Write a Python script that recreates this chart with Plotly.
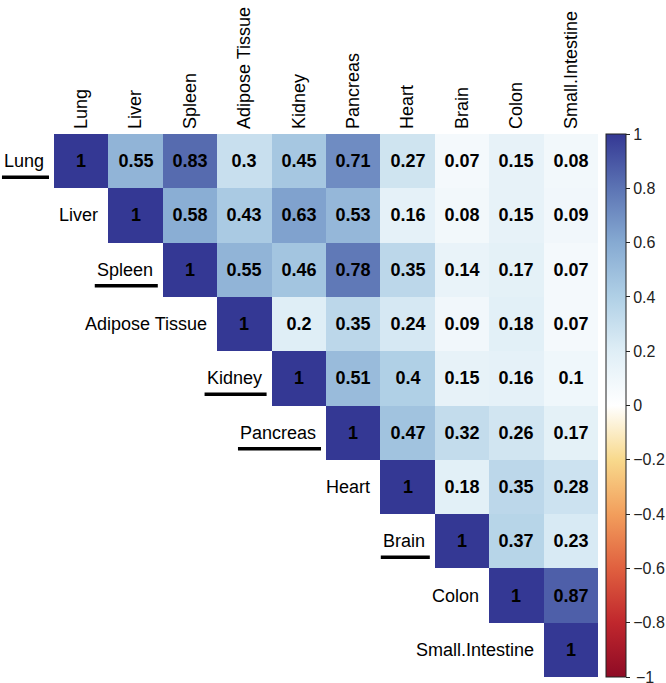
import numpy as np
import plotly.graph_objects as go

# Tissues (row/column order of the correlation matrix)
tissues = ["Lung", "Liver", "Spleen", "Adipose Tissue", "Kidney", "Pancreas",
           "Heart", "Brain", "Colon", "Small.Intestine"]

# Upper triangle of the correlation matrix, one list per row (starting at the diagonal)
lung = [1, 0.55, 0.83, 0.3, 0.45, 0.71, 0.27, 0.07, 0.15, 0.08]
liver = [1, 0.58, 0.43, 0.63, 0.53, 0.16, 0.08, 0.15, 0.09]
spleen = [1, 0.55, 0.46, 0.78, 0.35, 0.14, 0.17, 0.07]
adipose = [1, 0.2, 0.35, 0.24, 0.09, 0.18, 0.07]
kidney = [1, 0.51, 0.4, 0.15, 0.16, 0.1]
pancreas = [1, 0.47, 0.32, 0.26, 0.17]
heart = [1, 0.18, 0.35, 0.28]
brain = [1, 0.37, 0.23]
colon = [1, 0.87]
small_intestine = [1]

upper_rows = [lung, liver, spleen, adipose, kidney, pancreas, heart, brain,
              colon, small_intestine]

# labels that are underlined in the figure
underlined = ["Lung", "Spleen", "Kidney", "Pancreas", "Brain"]

n = len(tissues)
z = np.full((n, n), np.nan)
text = [["" for _ in range(n)] for _ in range(n)]
for i, row in enumerate(upper_rows):
    for k, v in enumerate(row):
        z[i, i + k] = v
        text[i][i + k] = f"{v:g}"

colorscale = [
    [0.0, "#8e0b25"], [0.1, "#c0272d"], [0.2, "#e0603f"], [0.3, "#f29e5c"],
    [0.4, "#f8d98c"], [0.5, "#ffffff"], [0.6, "#dfeef6"], [0.7, "#b0d0e6"],
    [0.8, "#86aad2"], [0.9, "#5c74b4"], [1.0, "#343894"],
]

FONT = "Liberation Sans, Arial, Helvetica, sans-serif"
FS = 18

fig = go.Figure(go.Heatmap(
    z=z, x=list(range(n)), y=list(range(n)),
    text=text, texttemplate="%{text}",
    textfont=dict(family=FONT, size=FS, color="black", weight="bold"),
    colorscale=colorscale, zmin=-1, zmax=1, hoverongaps=False,
    colorbar=dict(
        thickness=20, len=1.0, lenmode="fraction", y=1, yanchor="top", ypad=0,
        x=1.0147, xanchor="left", xpad=0,
        outlinewidth=1, outlinecolor="#222",
        tick0=-1, dtick=0.2, ticks="outside", ticklen=4, tickcolor="#222",
        tickfont=dict(family=FONT, size=16, color="#222"),
    ),
))

# bottom colorbar label gets dropped by plotly (it runs off the page), add it back
fig.add_annotation(x=1.066, y=0, xref="paper", yref="paper", text="\u22121",
                   showarrow=False, xanchor="left", yanchor="middle",
                   font=dict(family=FONT, size=16, color="#222"))

# Arial advance widths (em) for estimating label widths for underlines
W = {"L": .556, "u": .556, "n": .556, "g": .556, "S": .667, "p": .556, "l": .222,
     "e": .556, "K": .667, "i": .222, "d": .556, "y": .5, "P": .667, "a": .556,
     "c": .5, "r": .333, "s": .5, "B": .667}

for i, name in enumerate(tissues):
    fig.add_annotation(x=i - 0.5, y=i, text=name, showarrow=False, xanchor="right",
                       xshift=-8, font=dict(family=FONT, size=FS, color="black"))
    if name in underlined:
        w = sum(W.get(c, .556) for c in name) * FS
        # paper refs so the Lung underline is not clipped at the plot edge
        fig.add_shape(type="line", xref="paper", yref="paper",
                      xsizemode="pixel", xanchor=i / n, x0=-8 - w - 4, x1=-5,
                      ysizemode="pixel", yanchor=1 - (i + 0.5) / n, y0=-16, y1=-16,
                      line=dict(color="black", width=3.5))

fig.update_xaxes(side="top", tickvals=list(range(n)), ticktext=tissues,
                 tickangle=-90, tickfont=dict(family=FONT, size=FS, color="black"),
                 showgrid=False, zeroline=False, showline=False, ticks="",
                 range=[-0.5, n - 0.5], ticklabelstandoff=4, automargin=False)
fig.update_yaxes(autorange="reversed", showticklabels=False, showgrid=False,
                 zeroline=False, showline=False, ticks="", automargin=False)

fig.update_layout(
    width=666, height=683,
    margin=dict(l=54, r=68, t=134, b=6, autoexpand=False),
    plot_bgcolor="white", paper_bgcolor="white",
    font=dict(family=FONT),
)

# drop the default 8px body margin so the figure fills the window exactly
fig.write_html("out.html", config={"displayModeBar": False},
               post_script="document.body.style.margin = '0';")
